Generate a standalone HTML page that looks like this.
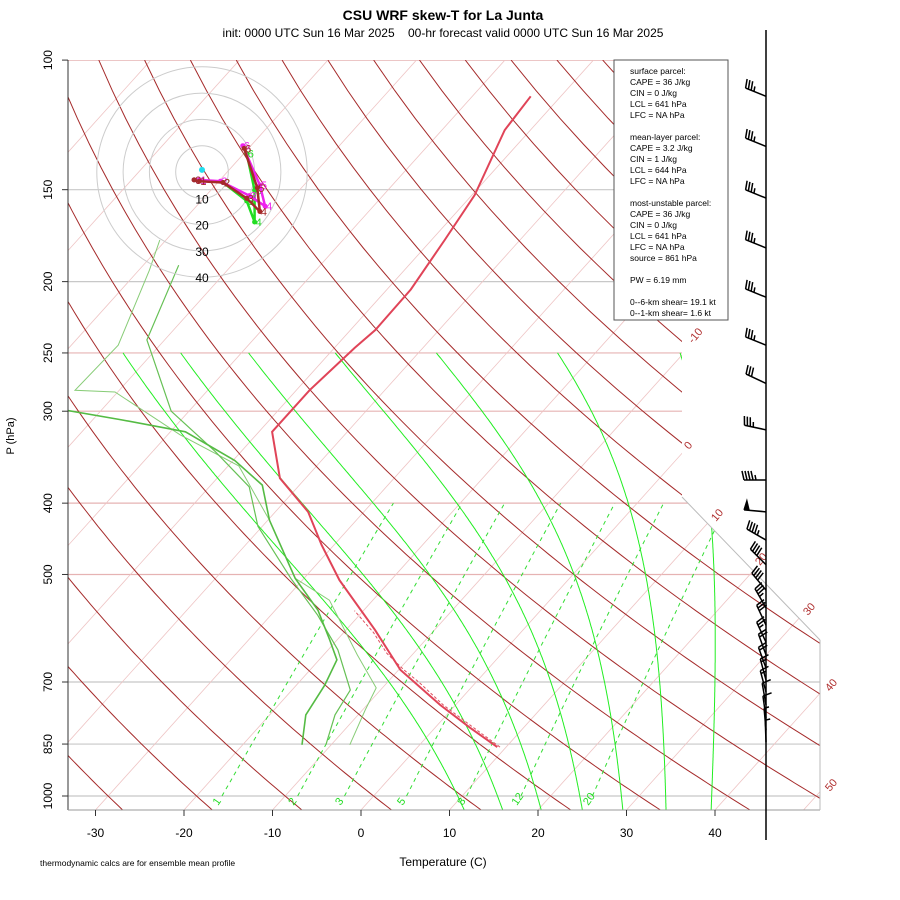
<!DOCTYPE html>
<html><head><meta charset="utf-8"><title>CSU WRF skew-T</title>
<style>
body{margin:0;background:#fff;}
svg{display:block;font-family:"Liberation Sans",sans-serif;}
</style></head>
<body>
<svg id="c" width="900" height="900" viewBox="0 0 900 900">
<defs><clipPath id="plotclip"><polygon points="68,60 682,60 682,497 820,640 820,810 68,810"/></clipPath></defs>
<rect width="900" height="900" fill="#fff"/>
<text x="443" y="20" text-anchor="middle" font-size="14" font-weight="bold">CSU WRF skew-T for La Junta</text>
<text x="443" y="37" text-anchor="middle" font-size="12" style="white-space:pre" xml:space="preserve">init: 0000 UTC Sun 16 Mar 2025    00-hr forecast valid 0000 UTC Sun 16 Mar 2025</text>
<g id="grid" clip-path="url(#plotclip)"></g>
<g id="prof" clip-path="url(#plotclip)"></g>
<g id="axes"></g>
<g id="hodo"></g>
<g id="barbs"></g>
<g>
<rect x="614" y="60" width="114" height="260" fill="#fff" stroke="#555" stroke-width="1"/>
<text font-size="8.5" fill="#000">
<tspan x="630" y="74">surface parcel:</tspan><tspan x="630" y="85">CAPE = 36 J/kg</tspan><tspan x="630" y="96">CIN = 0 J/kg</tspan><tspan x="630" y="107">LCL = 641 hPa</tspan><tspan x="630" y="118">LFC = NA hPa</tspan>
<tspan x="630" y="140">mean-layer parcel:</tspan><tspan x="630" y="151">CAPE = 3.2 J/kg</tspan><tspan x="630" y="162">CIN = 1 J/kg</tspan><tspan x="630" y="173">LCL = 644 hPa</tspan><tspan x="630" y="184">LFC = NA hPa</tspan>
<tspan x="630" y="206">most-unstable parcel:</tspan><tspan x="630" y="217">CAPE = 36 J/kg</tspan><tspan x="630" y="228">CIN = 0 J/kg</tspan><tspan x="630" y="239">LCL = 641 hPa</tspan><tspan x="630" y="250">LFC = NA hPa</tspan><tspan x="630" y="261">source = 861 hPa</tspan>
<tspan x="630" y="283">PW =  6.19 mm</tspan>
<tspan x="630" y="305">0--6-km shear= 19.1 kt</tspan><tspan x="630" y="316">0--1-km shear= 1.6 kt</tspan>
</text></g>
<text x="443" y="866" text-anchor="middle" font-size="12">Temperature (C)</text>
<text x="14" y="436" text-anchor="middle" font-size="11" transform="rotate(-90 14 436)">P (hPa)</text>
<text x="40" y="866" font-size="8.5">thermodynamic calcs are for ensemble mean profile</text>
</svg>
<script>
// ---- data ----
const pressureTicks = [100,150,200,250,300,400,500,700,850,1000];
const tempTicks = [-30,-20,-10,0,10,20,30,40];
const mixRatios = [1,2,3,5,8,12,20];
const moistStarts = [9.5,14,18.5,23.3,28,33,38.2];
const tempP = [112,124.5,152.5,175.6,205,232.7,246,281,320,370,411,456,509,595,674,752,808,858];
const tempT = [-53.4,-52.9,-49.7,-48.5,-47.3,-47.2,-47.7,-48.5,-48.5,-42.9,-36.3,-31.4,-25.8,-16.7,-9.8,-1.75,4.0,9.0];
const parcelP = [858,808,752,700,674,640,600,560];
const parcelT = [9.3,4.4,-1.4,-6.5,-9.4,-13,-16.6,-21];
const dew1P = [852,776,707,653,614,559,506,422,378,350,320,308,299];
const dew1T = [-13.3,-15.9,-16.8,-18.0,-20.8,-25.2,-31.0,-39.8,-44.2,-49.8,-58.3,-66.9,-74.1];
const dew2P = [852,764,713,643,542,506,422,356,323,282.5,281,244,193,175.6];
const dew2T = [-7.9,-9.7,-10.7,-16.2,-24.9,-31,-39.8,-48.8,-58.6,-70.3,-75,-74.7,-78.8,-80.7];
const dew3P = [852,776,718,633,568,506,430,380,340,300,240,190];
const dew3T = [-10.6,-12.6,-13.4,-18.9,-24.7,-31.5,-40.5,-45.5,-53,-62,-72,-76];
const barbP = [112,131,154,180,210,244,275,318,372,411,449,485,525,555,586,618,643,670,696,722,752,783,814,845];
const barbSpd = [35,35,35,35,35,35,30,35,45,50,45,40,40,35,30,25,20,20,15,15,10,10,5,5];
const barbDir = [292,292,292,292,292,292,295,282,270,275,300,315,320,330,335,335,340,340,345,345,350,352,355,358];
const hodoBrownU = [-3,-1,8,17,22,21,16];
const hodoBrownV = [-3,-3.5,-4,-10,-15,-6,9];
const hodoMagU = [-3,-1,7,18,24,22,15.5];
const hodoMagV = [-3,-3,-3.5,-9,-13,-5,10];
const hodoGreenU = [-3,-1,8,17,20,20,17];
const hodoGreenV = [-3,-3,-4,-11,-19,-7,7];
const hodoLabels = ['0','1','2','3','4','5','6'];

// ---- scales ----
const NS='http://www.w3.org/2000/svg';
function Y(p){return 796-319.6*Math.log(1000/p);}
function X(T,p){return 361+8.85*T+0.9*(810-Y(p));}
function mk(tag,attrs,parent){const e=document.createElementNS(NS,tag);for(const k in attrs)e.setAttribute(k,attrs[k]);parent.appendChild(e);return e;}
function pathFrom(ts,ps){return ts.map((t,i)=>(i?'L':'M')+X(t,ps[i]).toFixed(1)+','+Y(ps[i]).toFixed(1)).join('');}
const grid=document.getElementById('grid'),prof=document.getElementById('prof'),axes=document.getElementById('axes');

pressureTicks.forEach(p=>{
  const pink=[100,250,300,400,500].includes(p);
  const l=mk('line',{x1:68,x2:820,y1:Y(p),y2:Y(p),stroke:pink?'#e6b3b3':'#c8c8c8','stroke-width':1.2},grid);
  
  
});
for(let T=-140;T<=50;T+=10){
  const l=mk('line',{x1:X(T,1050),y1:Y(1050),x2:X(T,100),y2:Y(100),stroke:'#eec4c4','stroke-width':0.8},grid);
  
  
}
for(let th=-40;th<=200;th+=10){
  const ts=[],ps=[];
  for(let p=1050;p>=100;p-=10){ps.push(p);ts.push((th+273.15)*Math.pow(p/1000,0.286)-273.15);}
  const l=mk('path',{d:pathFrom(ts,ps),fill:'none',stroke:'#a52a2a','stroke-width':1},grid);
  
  
}
function es(T){return 6.112*Math.exp(17.67*T/(T+243.5));}
function moistRate(Tk,p){const e=es(Tk-273.15),rs=0.7*0.622*e/(p-e);
  return (287*Tk+2.5e6*rs)/(p*(1004+2.5e6*2.5e6*rs*0.622/(287*Tk*Tk)));}
moistStarts.forEach(T0=>{
  let Tk=T0+273.15;const up=[],upP=[];
  for(let p=1000;p>=250;p-=2){up.push(Tk-273.15);upP.push(p);Tk-=moistRate(Tk,p)*2;}
  Tk=T0+273.15;const dn=[],dnP=[];
  for(let p=1000;p<1050;p+=2){Tk+=moistRate(Tk,p)*2;dn.push(Tk-273.15);dnP.push(p+2);}
  const all=dn.reverse().concat(up),allP=dnP.reverse().concat(upP);
  const l=mk('path',{d:pathFrom(all,allP),fill:'none',stroke:'#22ee22','stroke-width':1},grid);
  
  
});
function tdFromW(w,p){const e=w*p/(622+w);const a=Math.log(e/6.112);return 243.5*a/(17.67-a);}
mixRatios.forEach(w=>{
  const ts=[],ps=[];
  for(let p=1000;p>=400;p-=10){ps.push(p);ts.push(tdFromW(w,p));}
  const l=mk('path',{d:pathFrom(ts,ps),fill:'none',stroke:'#33dd33','stroke-width':1,'stroke-dasharray':'4,4'},grid);
  
  
  const x=X(tdFromW(w,1000),1000)-4,y=806;
  const t=mk('text',{x:x,y:y,'font-size':11,fill:'#22dd22',transform:'rotate(-55 '+x+' '+y+')'},grid);
  t.textContent=w;
  
  
});
[[dew2T,dew2P,'#88cc77',1],[dew3T,dew3P,'#66c055',1.2],[dew1T,dew1P,'#55bb44',1.6]].forEach(([t,p,c,w])=>{
  const l=mk('path',{d:pathFrom(t,p),fill:'none',stroke:c,'stroke-width':w},prof);
  
  
});
{
  const l=mk('path',{d:pathFrom(parcelT,parcelP),fill:'none',stroke:'#e05060','stroke-width':1,'stroke-dasharray':'3,2'},prof);
  
  
  const t=mk('path',{d:pathFrom(tempT,tempP),fill:'none',stroke:'#e04458','stroke-width':2},prof);
  
  
}
mk('line',{x1:68,y1:60,x2:68,y2:810,stroke:'#333','stroke-width':1},axes);
mk('line',{x1:68,y1:810,x2:820,y2:810,stroke:'#999','stroke-width':1},axes);
mk('line',{x1:820,y1:640,x2:820,y2:810,stroke:'#bbb','stroke-width':1},axes);
mk('line',{x1:682,y1:497,x2:820,y2:640,stroke:'#bbb','stroke-width':1},axes);
pressureTicks.forEach(p=>{
  mk('line',{x1:62,x2:68,y1:Y(p),y2:Y(p),stroke:'#333'},axes);
  const t=mk('text',{x:52,y:Y(p),'font-size':12,'text-anchor':'middle',transform:'rotate(-90 52 '+Y(p)+')'},axes);
  t.textContent=p;
  
  
});
tempTicks.forEach(T=>{
  const x=361+8.85*T;
  mk('line',{x1:x,x2:x,y1:810,y2:816,stroke:'#333'},axes);
  const t=mk('text',{x:x,y:837,'font-size':12,'text-anchor':'middle'},axes);
  t.textContent=T;
  
  
});
[[-10,693,344],[0,689,450],[10,716,522],[20,760,566],[30,808,616],[40,830,692],[50,830,792]].forEach(([v,x,y])=>{
  const t=mk('text',{x:x,y:y,'font-size':11,fill:'#b03030',transform:'rotate(-50 '+x+' '+y+')'},axes);
  t.textContent=v;
  
  
});
const hodo=document.getElementById('hodo');const hx=202,hy=172,hs=2.63;
[1,2,3,4].forEach(i=>{
  mk('circle',{cx:hx,cy:hy,r:i*10*hs,fill:'none',stroke:'#cccccc','stroke-width':1},hodo);
  const t=mk('text',{x:hx,y:hy+i*10*hs+5,'font-size':12,'text-anchor':'middle'},hodo);
  t.textContent=i*10;
  
  
});
function hp(u,v){return [hx+u*hs,hy-v*hs];}
[[hodoGreenU,hodoGreenV,'#22dd22'],[hodoMagU,hodoMagV,'#ee22ee'],[hodoBrownU,hodoBrownV,'#a52a2a']].forEach(([us,vs,c])=>{
  const d=us.map((u,i)=>{const q=hp(u,vs[i]);return (i?'L':'M')+q[0]+','+q[1];}).join('');
  const l=mk('path',{d:d,fill:'none',stroke:c,'stroke-width':2.5},hodo);
  
  
  us.forEach((u,i)=>{
    const q=hp(u,vs[i]);
    mk('circle',{cx:q[0],cy:q[1],r:2.5,fill:c},hodo);
    const t=mk('text',{x:q[0]+1,y:q[1]+4,'font-size':11,fill:c},hodo);
    t.textContent=hodoLabels[i];
    
    
  });
});
{const q=hp(0,0.8);mk('circle',{cx:q[0],cy:q[1],r:3,fill:'#22ddee'},hodo);}
const bg=document.getElementById('barbs');
mk('line',{x1:766,y1:30,x2:766,y2:840,stroke:'#000','stroke-width':1.5},bg);
barbP.forEach((p,i)=>{
  const y=Y(p),x=766,a=barbDir[i]*Math.PI/180;
  const dx=Math.sin(a),dy=-Math.cos(a),L=22;
  const fx=-dy,fy=dx;
  let d='M'+x+','+y+'L'+(x+dx*L)+','+(y+dy*L);
  let s=barbSpd[i],pos=L;
  while(s>=50){d+='M'+(x+dx*pos)+','+(y+dy*pos)+'L'+(x+dx*(pos-2)+fx*9)+','+(y+dy*(pos-2)+fy*9)+'L'+(x+dx*(pos-5))+','+(y+dy*(pos-5));pos-=6;s-=50;}
  while(s>=10){d+='M'+(x+dx*pos)+','+(y+dy*pos)+'l'+(fx*9+dx*2)+','+(fy*9+dy*2);pos-=3;s-=10;}
  if(s>=5){d+='M'+(x+dx*pos)+','+(y+dy*pos)+'l'+(fx*5+dx*1)+','+(fy*5+dy*1);}
  const b=mk('path',{d:d,fill:'#000',stroke:'#000','stroke-width':1.5},bg);
  
  
});
</script>
</body></html>
